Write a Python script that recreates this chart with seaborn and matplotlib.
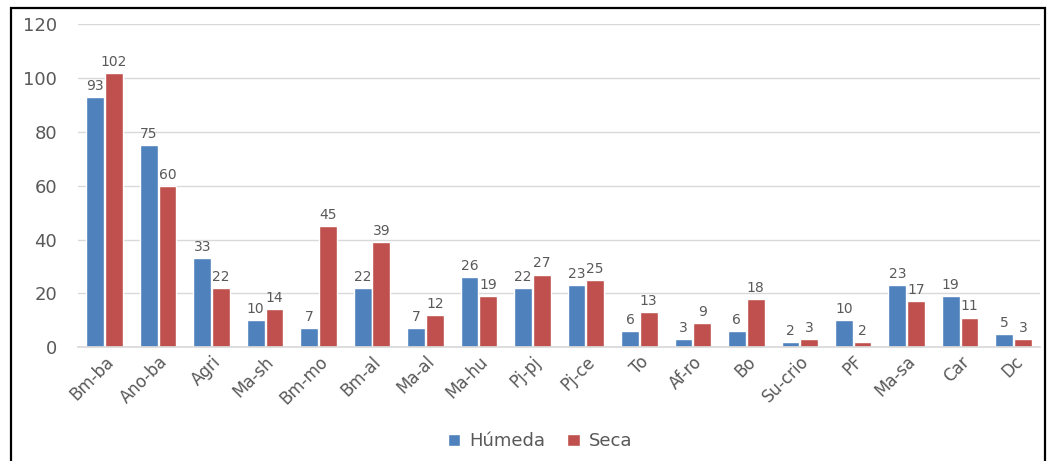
import matplotlib
matplotlib.use("Agg")
import matplotlib.pyplot as plt
import seaborn as sns
import pandas as pd
from matplotlib.patches import Rectangle

categories = ["Bm-ba", "Ano-ba", "Agri", "Ma-sh", "Bm-mo", "Bm-al", "Ma-al", "Ma-hu",
              "Pj-pj", "Pj-ce", "To", "Af-ro", "Bo", "Su-crio", "PF", "Ma-sa", "Car", "Dc"]
humeda = [93, 75, 33, 10, 7, 22, 7, 26, 22, 23, 6, 3, 6, 2, 10, 23, 19, 5]
seca = [102, 60, 22, 14, 45, 39, 12, 19, 27, 25, 13, 9, 18, 3, 2, 17, 11, 3]
series_names = ["Húmeda", "Seca"]

df = pd.DataFrame({
    "cat": categories * 2,
    "val": humeda + seca,
    "serie": [series_names[0]] * len(categories) + [series_names[1]] * len(categories),
})

sns.set_theme(style="white")
plt.rcParams["font.family"] = ["DejaVu Sans"]
gray = "#595959"

fig = plt.figure(figsize=(10.53, 4.61), dpi=100)
ax = fig.add_axes([0.074, 0.247, 0.914, 0.70])

sns.barplot(data=df, x="cat", y="val", hue="serie", order=categories,
            hue_order=series_names, palette=["#4F81BD", "#C0504D"],
            width=0.70, gap=0.05, ax=ax, saturation=1, legend=True)

for cont in ax.containers:
    ax.bar_label(cont, fmt="%d", padding=3, fontsize=10, color=gray)

ax.set_ylim(0, 120)
ax.set_yticks(range(0, 121, 20))
ax.set_xlim(-0.5, len(categories) - 0.5)
ax.yaxis.grid(True, color="#D9D9D9", linewidth=1)
ax.set_axisbelow(True)
for s in ["top", "right", "left"]:
    ax.spines[s].set_visible(False)
ax.spines["bottom"].set_color("#D9D9D9")
ax.set_xlabel("")
ax.set_ylabel("")
ax.tick_params(axis="y", labelsize=13, colors=gray, length=0, pad=15)
ax.tick_params(axis="x", labelsize=12, colors=gray, length=0, pad=4)
plt.setp(ax.get_xticklabels(), rotation=45, ha="right", rotation_mode="anchor")

leg = ax.legend(loc="lower center", bbox_to_anchor=(0.48, -0.37), ncol=2, frameon=False,
                fontsize=13, handlelength=0.7, handleheight=0.7, handletextpad=0.5,
                columnspacing=1.2)
for t in leg.get_texts():
    t.set_color(gray)

fig.patches.append(Rectangle((0.010, -0.02), 0.982, 1.003, transform=fig.transFigure,
                             fill=False, edgecolor="black", linewidth=1.6))

fig.savefig("out.png", dpi=100)
